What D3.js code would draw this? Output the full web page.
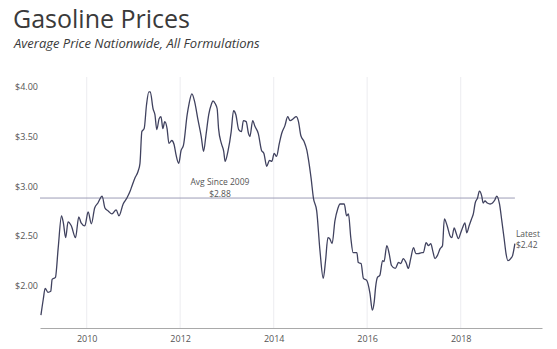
<!DOCTYPE html>
<html>
<head>
<meta charset="utf-8">
<script src="https://cdn.jsdelivr.net/npm/d3@7"></script>
<style>
  body { margin: 0; background: #fff; }
  svg { display: block; font-family: "Open Sans", sans-serif; }
</style>
</head>
<body>
<div id="chart"></div>
<script>
// weekly-ish readings, decimal year -> average price ($/gal)
const years = [
  2009.02, 2009.07, 2009.11, 2009.17, 2009.23, 2009.26, 2009.33, 2009.39, 2009.46, 2009.50,
  2009.55, 2009.60, 2009.67, 2009.76, 2009.83, 2009.88, 2009.96, 2010.03, 2010.10, 2010.17,
  2010.24, 2010.33, 2010.39, 2010.46, 2010.54, 2010.63, 2010.69, 2010.78, 2010.86, 2010.93,
  2010.96, 2011.03, 2011.10, 2011.14, 2011.18, 2011.23, 2011.28, 2011.33, 2011.36, 2011.42,
  2011.46, 2011.50, 2011.55, 2011.59, 2011.63, 2011.67, 2011.72, 2011.76, 2011.82, 2011.87,
  2011.91, 2011.97, 2012.02, 2012.07, 2012.15, 2012.19, 2012.25, 2012.31, 2012.38, 2012.45,
  2012.50, 2012.55, 2012.61, 2012.67, 2012.70, 2012.75, 2012.79, 2012.82, 2012.88, 2012.93,
  2012.96, 2013.02, 2013.09, 2013.14, 2013.19, 2013.25, 2013.31, 2013.35, 2013.41, 2013.46,
  2013.49, 2013.55, 2013.60, 2013.67, 2013.74, 2013.79, 2013.85, 2013.91, 2013.96, 2014.01,
  2014.06, 2014.12, 2014.17, 2014.24, 2014.30, 2014.35, 2014.42, 2014.48, 2014.53, 2014.58,
  2014.65, 2014.71, 2014.74, 2014.80, 2014.85, 2014.92, 2014.99, 2015.06, 2015.11, 2015.16,
  2015.20, 2015.25, 2015.31, 2015.37, 2015.42, 2015.47, 2015.51, 2015.56, 2015.60, 2015.65,
  2015.70, 2015.78, 2015.81, 2015.87, 2015.92, 2015.99, 2016.06, 2016.11, 2016.15, 2016.18,
  2016.22, 2016.27, 2016.33, 2016.36, 2016.42, 2016.47, 2016.52, 2016.60, 2016.67, 2016.72,
  2016.77, 2016.83, 2016.88, 2016.93, 2016.99, 2017.04, 2017.09, 2017.17, 2017.20, 2017.26,
  2017.31, 2017.36, 2017.40, 2017.45, 2017.50, 2017.56, 2017.61, 2017.65, 2017.71, 2017.77,
  2017.81, 2017.86, 2017.90, 2017.95, 2018.00, 2018.04, 2018.09, 2018.13, 2018.18, 2018.24,
  2018.27, 2018.31, 2018.36, 2018.40, 2018.45, 2018.48, 2018.52, 2018.57, 2018.63, 2018.68,
  2018.73, 2018.77, 2018.83, 2018.88, 2018.93, 2018.97, 2019.01, 2019.07, 2019.11, 2019.16
];
const prices = [
  1.70, 1.86, 1.97, 1.93, 1.94, 2.06, 2.08, 2.38, 2.70, 2.63,
  2.48, 2.64, 2.60, 2.48, 2.69, 2.63, 2.60, 2.74, 2.62, 2.78,
  2.83, 2.90, 2.78, 2.75, 2.72, 2.76, 2.70, 2.82, 2.88, 2.95,
  2.99, 3.08, 3.15, 3.23, 3.55, 3.58, 3.82, 3.95, 3.95, 3.78,
  3.72, 3.57, 3.68, 3.70, 3.58, 3.65, 3.58, 3.43, 3.46, 3.42,
  3.32, 3.23, 3.36, 3.41, 3.72, 3.83, 3.93, 3.85, 3.67, 3.50,
  3.35, 3.51, 3.72, 3.83, 3.86, 3.83, 3.78, 3.58, 3.43, 3.35,
  3.25, 3.35, 3.55, 3.76, 3.72, 3.57, 3.55, 3.66, 3.65, 3.53,
  3.50, 3.66, 3.60, 3.53, 3.36, 3.33, 3.20, 3.26, 3.25, 3.33,
  3.30, 3.43, 3.53, 3.61, 3.70, 3.66, 3.68, 3.70, 3.65, 3.51,
  3.45, 3.36, 3.28, 3.08, 2.88, 2.75, 2.35, 2.07, 2.25, 2.48,
  2.47, 2.42, 2.65, 2.77, 2.82, 2.82, 2.82, 2.70, 2.72, 2.48,
  2.33, 2.33, 2.23, 2.22, 2.07, 2.05, 1.92, 1.75, 1.83, 1.98,
  2.08, 2.10, 2.25, 2.24, 2.40, 2.32, 2.20, 2.17, 2.23, 2.22,
  2.27, 2.23, 2.17, 2.27, 2.38, 2.32, 2.32, 2.33, 2.33, 2.43,
  2.40, 2.42, 2.35, 2.27, 2.30, 2.37, 2.40, 2.67, 2.60, 2.50,
  2.48, 2.58, 2.53, 2.47, 2.53, 2.58, 2.63, 2.53, 2.60, 2.68,
  2.72, 2.83, 2.88, 2.95, 2.90, 2.83, 2.85, 2.83, 2.82, 2.83,
  2.86, 2.90, 2.82, 2.65, 2.47, 2.32, 2.25, 2.27, 2.30, 2.42
];
const yTicks = [2.0, 2.5, 3.0, 3.5, 4.0];
const xTickYears = [2010, 2012, 2014, 2016, 2018];
const avgSince2009 = 2.88;
const latestPrice = 2.42;

const width = 557;
const height = 349;
const margin = { top: 77, right: 15, bottom: 21, left: 40 };

// decimal year -> Date
const toDate = t => {
  const y = Math.floor(t);
  const a = new Date(y, 0, 1), b = new Date(y + 1, 0, 1);
  return new Date(+a + (t - y) * (b - a));
};

const data = years.map((t, i) => ({ date: toDate(t), price: prices[i] }));
const money = d3.format("$.2f");

const svg = d3.select("#chart").append("svg")
  .attr("width", width)
  .attr("height", height);

svg.append("text")
  .attr("x", 13)
  .attr("y", 28)
  .attr("fill", "#3a3a3a")
  .style("font-size", "25px")
  .text("Gasoline Prices");

svg.append("text")
  .attr("x", 14)
  .attr("y", 48)
  .attr("fill", "#3a3a3a")
  .style("font-size", "13px")
  .style("font-style", "italic")
  .text("Average Price Nationwide, All Formulations");

const x = d3.scaleTime()
  .domain([toDate(2009.0), toDate(2019.74)])
  .range([margin.left, width - margin.right]);

const y = d3.scaleLinear()
  .domain([1.57, 4.10])
  .range([height - margin.bottom, margin.top]);

// vertical grid
svg.append("g")
  .selectAll("line")
  .data(xTickYears)
  .join("line")
  .attr("x1", d => x(new Date(d, 0, 1)))
  .attr("x2", d => x(new Date(d, 0, 1)))
  .attr("y1", margin.top)
  .attr("y2", height - margin.bottom)
  .attr("stroke", "#ececf0")
  .attr("stroke-width", 1);

// x axis
const xAxis = svg.append("g")
  .attr("transform", `translate(0,${height - margin.bottom})`)
  .call(d3.axisBottom(x)
    .tickValues(xTickYears.map(d => new Date(d, 0, 1)))
    .tickFormat(d3.timeFormat("%Y"))
    .tickSize(0)
    .tickPadding(8));
xAxis.select(".domain").attr("stroke", "#a9a9a9");
xAxis.selectAll("text")
  .attr("fill", "#555")
  .style("font-size", "9px")
  .style("font-family", "Open Sans, sans-serif");

// y axis labels only
const yAxis = svg.append("g")
  .attr("transform", `translate(${margin.left - 1},0)`)
  .call(d3.axisLeft(y)
    .tickValues(yTicks)
    .tickFormat(money)
    .tickSize(0)
    .tickPadding(1));
yAxis.select(".domain").remove();
yAxis.selectAll("text")
  .attr("fill", "#555")
  .style("font-size", "9px")
  .style("font-family", "Open Sans, sans-serif");

// average line
const lastDate = data[data.length - 1].date;
svg.append("line")
  .attr("x1", x(toDate(2009.0)))
  .attr("x2", x(lastDate))
  .attr("y1", y(avgSince2009))
  .attr("y2", y(avgSince2009))
  .attr("stroke", "#9c9cb6")
  .attr("stroke-width", 1);

const avgX = x(toDate(2012.85));
svg.append("text")
  .attr("x", avgX)
  .attr("y", y(avgSince2009) - 13)
  .attr("text-anchor", "middle")
  .attr("fill", "#555")
  .style("font-size", "8.5px")
  .text("Avg Since 2009");
svg.append("text")
  .attr("x", avgX)
  .attr("y", y(avgSince2009) - 1.5)
  .attr("text-anchor", "middle")
  .attr("fill", "#555")
  .style("font-size", "8.5px")
  .text(money(avgSince2009));

// price line
const line = d3.line()
  .x(d => x(d.date))
  .y(d => y(d.price))
  .curve(d3.curveMonotoneX);

svg.append("path")
  .datum(data)
  .attr("fill", "none")
  .attr("stroke", "#40425f")
  .attr("stroke-width", 1.3)
  .attr("stroke-linejoin", "round")
  .attr("d", line);

// latest label
const lx = x(lastDate) + 1;
svg.append("text")
  .attr("x", lx)
  .attr("y", y(latestPrice) - 7)
  .attr("fill", "#555")
  .style("font-size", "8.5px")
  .text("Latest");
svg.append("text")
  .attr("x", lx)
  .attr("y", y(latestPrice) + 4.5)
  .attr("fill", "#555")
  .style("font-size", "8.5px")
  .text(money(latestPrice));
</script>
</body>
</html>
